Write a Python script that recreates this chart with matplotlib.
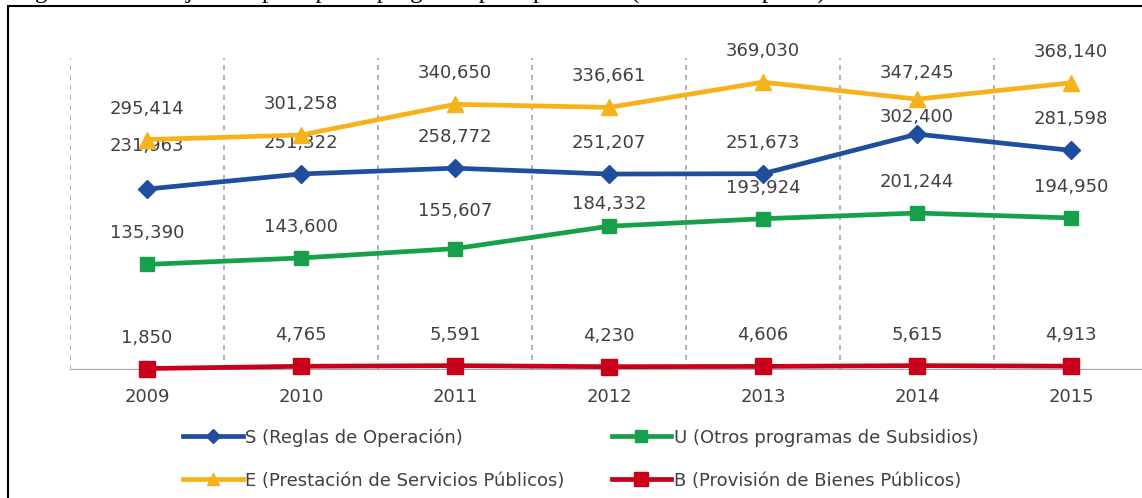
import matplotlib
matplotlib.use('Agg')
import matplotlib.pyplot as plt
from matplotlib.lines import Line2D
from matplotlib.patches import Rectangle


years = ['2009', '2010', '2011', '2012', '2013', '2014', '2015']
s_reglas = [231963, 251322, 258772, 251207, 251673, 302400, 281598]
u_otros = [135390, 143600, 155607, 184332, 193924, 201244, 194950]
e_servicios = [295414, 301258, 340650, 336661, 369030, 347245, 368140]
b_bienes = [1850, 4765, 5591, 4230, 4606, 5615, 4913]

labels = {
    'S': 'S (Reglas de Operación)',
    'U': 'U (Otros programas de Subsidios)',
    'E': 'E (Prestación de Servicios Públicos)',
    'B': 'B (Provisión de Bienes Públicos)',
}

# label distance above the marker, in pixels (a few are placed by hand)
default_off = 31
label_off = {('S', 0): 43, ('S', 5): 17, ('U', 2): 38, ('U', 3): 22, ('E', 5): 26}

text_col = '#404040'
grid_col = '#a6a6a6'

fig = plt.figure(figsize=(11.42, 4.98), dpi=100)
ax = fig.add_axes([70 / 1142, 128 / 498, 1078 / 1142, 312 / 498])

x = list(range(len(years)))

for b in [i - 0.5 for i in x]:
    ax.axvline(b, color=grid_col, linestyle=(0, (3, 3)), linewidth=1.2, zorder=1)
ax.axhline(0, color=grid_col, linewidth=1.6, zorder=1)

series = [
    ('S', s_reglas, '#1f4e9e', 'D', 9),
    ('E', e_servicios, '#f5b21c', '^', 11),
    ('U', u_otros, '#17a04a', 's', 10),
    ('B', b_bienes, '#c8001a', 's', 12),
]

handles = []
for key, vals, col, mk, ms in series:
    ax.plot(x, vals, color=col, linewidth=3.4, marker=mk, markersize=ms,
            clip_on=False, zorder=3)
    for i, v in enumerate(vals):
        off = label_off.get((key, i), default_off) * 72 / 100
        ax.annotate(f'{v:,}', (i, v), xytext=(0, off), textcoords='offset points',
                    ha='center', va='center', fontsize=13, color=text_col)
    handles.append(Line2D([], [], color=col, linewidth=3.4, marker=mk, markersize=ms * 0.8))

ax.set_xlim(-0.5, 6.5)
ax.set_ylim(0, 400000)
ax.set_xticks(x)
ax.set_xticklabels(years, fontsize=13, color=text_col)
ax.tick_params(axis='x', length=0, pad=13)
ax.set_yticks([])
for sp in ax.spines.values():
    sp.set_visible(False)

fig.legend(handles, [labels[s[0]] for s in series], ncol=2, frameon=False,
           loc='upper left', bbox_to_anchor=(183 / 1142, 1 - 428 / 498),
           fontsize=13, labelcolor=text_col, handlelength=3.3, handletextpad=0.15,
           columnspacing=2.6, labelspacing=1.4, borderpad=0, borderaxespad=0)

# frame round the chart, open to the right and bottom
fig.patches.append(Rectangle((8 / 1142, -0.1), 1.2, 1 - 6 / 498 + 0.1,
                             transform=fig.transFigure, fill=False,
                             edgecolor='black', linewidth=1.5))

# caption line above the frame, cut off in the source: only the descenders show
fig.text(14 / 1142, 1 + 1 / 498,
         'Figura 3. Gasto ejercido por tipo de programa presupuestario (millones de pesos)',
         family='Liberation Serif', fontsize=18, va='baseline', ha='left')

fig.savefig('out.png', dpi=100)
